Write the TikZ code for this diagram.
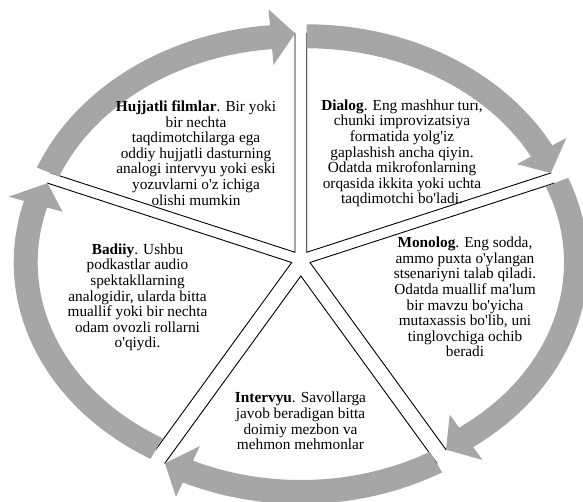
\documentclass[tikz,border=0pt]{standalone}
\usepackage{fontspec}
\setmainfont{Liberation Serif}[Ligatures=TeXOff]
\definecolor{arrowgray}{RGB}{166,166,166}
\tikzset{
  wedgeline/.style={draw=black, line width=0.9pt, line join=miter},
  arrowfill/.style={fill=arrowgray, draw=none},
  txt/.style={align=center, inner sep=0pt, font=\fontsize{15.3}{15.6}\selectfont}
}
% wedge: apex, start param angle, end param angle
\newcommand\pieslice[3]{%
  \draw[wedgeline, shift={(#1)}] (0,0) -- (#2:262pt and 219pt)
    arc[start angle=#2, end angle=#3, x radius=262pt, y radius=219pt] -- cycle;}
% arrow: apex, tail param angle, base param angle, tip (wedge) param angle
\newcommand\cyclearrow[4]{%
  \fill[arrowfill, shift={(#1)}] (#2:278pt and 228pt)
    arc[start angle=#2, end angle=#3, x radius=278pt, y radius=228pt]
    -- (#3:294pt and 244pt) -- (#4:262pt and 219pt) -- (#3:238pt and 188pt)
    -- (#3:254pt and 204pt)
    arc[start angle=#3, end angle=#2, x radius=254pt, y radius=204pt] -- cycle;}
\begin{document}
\begin{tikzpicture}[x=1pt, y=1pt]
\useasboundingbox (0,0) rectangle (583,502);
\coordinate (H) at (295.0,249.7);
\coordinate (D) at (306.7,249.7);
\coordinate (M) at (310.0,239.5);
\coordinate (I) at (300.85,226.0);
\coordinate (B) at (291.7,239.5);
% slices
\pieslice{H}{158.76}{90}
\pieslice{D}{90}{21.24}
\pieslice{M}{21.24}{-58.73}
\pieslice{I}{-58.73}{-121.27}
\pieslice{B}{-121.27}{-201.24}
% arrows
\cyclearrow{H}{158.19}{95.17}{90}
\cyclearrow{D}{90}{27.96}{21.24}
\cyclearrow{M}{21.81}{-54.05}{-58.73}
\cyclearrow{I}{-59.46}{-115.13}{-121.27}
\cyclearrow{B}{-120.54}{-195.66}{-201.24}
% texts
\node[txt] (hujjatli) at (196,349) {\textbf{Hujjatli filmlar}. Bir yoki\\bir nechta\\taqdimotchilarga ega\\oddiy hujjatli dasturning\\analogi intervyu yoki eski\\yozuvlarni o'z ichiga\\olishi mumkin};
\node[txt] (dialog) at (402,348.5) {\textbf{Dialog}. Eng mashhur turı,\\chunki improvizatsiya\\formatida yolg'iz\\gaplashish ancha qiyin.\\Odatda mikrofonlarning\\orqasida ikkita yoki uchta\\taqdimotchi bo'ladi.};
\node[txt] (monolog) at (465,205) {\textbf{Monolog}. Eng sodda,\\ammo puxta o'ylangan\\stsenariyni talab qiladi.\\Odatda muallif ma'lum\\bir mavzu bo'yicha\\mutaxassis bo'lib, uni\\tinglovchiga ochib\\beradi};
\node[txt] (badiiy) at (137.5,204.5) {\textbf{Badiiy}. Ushbu\\podkastlar audio\\spektakllarning\\analogidir, ularda bitta\\muallif yoki bir nechta\\odam ovozli rollarni\\o'qiydi.};
\node[txt] (intervyu) at (300.5,81) {\textbf{Intervyu}. Savollarga\\javob beradigan bitta\\doimiy mezbon va\\mehmon mehmonlar};
\end{tikzpicture}
\end{document}
